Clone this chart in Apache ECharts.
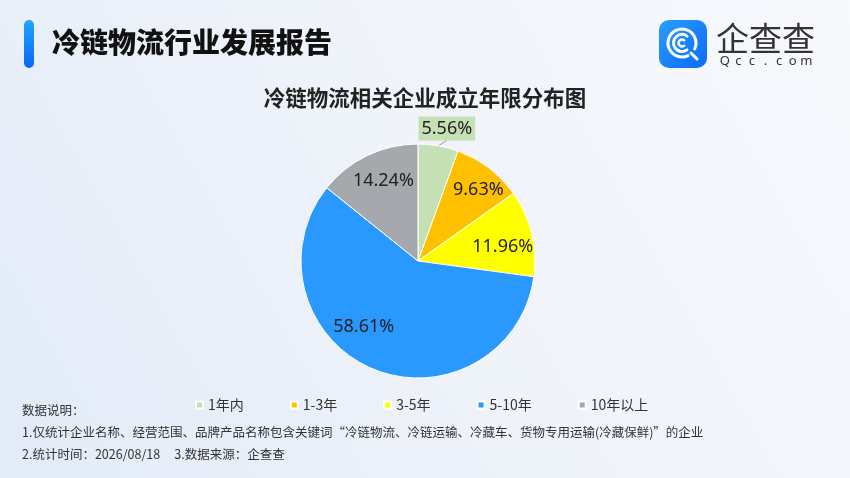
<!DOCTYPE html>
<html><head><meta charset="utf-8">
<script src="https://cdn.jsdelivr.net/npm/echarts@6/dist/echarts.min.js"></script>
<style>html,body{margin:0;padding:0;background:#f2f5fb;}#c{width:850px;height:478px;}</style>
</head><body><div id="c"></div>
<script>
const categories = ['1年内', '1-3年', '3-5年', '5-10年', '10年以上'];
const values = [5.56, 9.63, 11.96, 58.61, 14.24];
const colors = ['#c5e0b4', '#ffc000', '#ffff00', '#2999ff', '#a5a8ac'];
const labelOffsets = [[0, 0], [23, -22], [25, 1], [-30, 9], [-8, -25]];
const pageTitle = '冷链物流行业发展报告';
const chartTitle = '冷链物流相关企业成立年限分布图';
const notes = [
  '数据说明：',
  '1.仅统计企业名称、经营范围、品牌产品名称包含关键词“冷链物流、冷链运输、冷藏车、货物专用运输(冷藏保鲜)”的企业',
  '2.统计时间：2026/08/18     3.数据来源：企查查'
];
const noteY = [410, 432, 454];
const brandName = '企查查';
const brandSite = 'Qcc.com';

const CJK = '"Noto Sans CJK SC", "Noto Sans", sans-serif';
const chart = echarts.init(document.getElementById('c'));
const G = echarts.graphic.LinearGradient;

const graphics = [
  { type: 'rect', shape: { x: 24, y: 20, width: 10, height: 48, r: 5 },
    style: { fill: new G(0, 0, 0, 1, [{ offset: 0, color: '#20a6ff' }, { offset: 1, color: '#0a66f6' }]) } },
  { type: 'text', style: { text: pageTitle, x: 52, y: 42, fill: '#111', fontSize: 28, fontWeight: 900, fontFamily: CJK, verticalAlign: 'middle' } },
  // logo
  { type: 'rect', shape: { x: 659, y: 20, width: 48, height: 48, r: 10 },
    style: { fill: new G(0, 0, 1, 1, [{ offset: 0, color: '#2a9dff' }, { offset: 1, color: '#0b6cf7' }]) } },
  { type: 'arc', shape: { cx: 682, cy: 43, r: 14, startAngle: Math.PI * 0.36, endAngle: Math.PI * 2.14, clockwise: true },
    style: { stroke: '#fff', lineWidth: 3, fill: null, lineCap: 'round' } },
  { type: 'line', shape: { x1: 691, y1: 53, x2: 697, y2: 59 }, style: { stroke: '#fff', lineWidth: 3, lineCap: 'round' } },
  { type: 'arc', shape: { cx: 682, cy: 43, r: 8.5, startAngle: Math.PI * 0.3, endAngle: Math.PI * 1.7, clockwise: true },
    style: { stroke: '#fff', lineWidth: 3, fill: null, lineCap: 'round' } },
  { type: 'arc', shape: { cx: 682, cy: 43, r: 3.5, startAngle: Math.PI * 0.3, endAngle: Math.PI * 1.7, clockwise: true },
    style: { stroke: '#fff', lineWidth: 2.5, fill: null, lineCap: 'round' } },
  { type: 'text', style: { text: brandName, x: 716, y: 38, fill: '#333', fontSize: 33, fontFamily: CJK, verticalAlign: 'middle' } }
];
brandSite.split('').forEach((ch, i) => {
  graphics.push({ type: 'text', style: { text: ch, x: 718 + (95 / 7) * (i + 0.5), y: 61, fill: '#333', fontSize: 13, fontFamily: '"Noto Sans", sans-serif', align: 'center', verticalAlign: 'middle' } });
});
notes.forEach((t, i) => {
  graphics.push({ type: 'text', style: { text: t, x: 22, y: noteY[i], fill: '#333', fontSize: 12.5, fontFamily: CJK, verticalAlign: 'middle' } });
});

chart.setOption({
  backgroundColor: new G(0, 1, 1, 0, [{ offset: 0, color: '#e2ebf8' }, { offset: 0.5, color: '#eff3fa' }, { offset: 1, color: '#f7f9fd' }]),
  animation: false,
  title: { text: chartTitle, left: 'center', top: 82, textStyle: { fontSize: 21.5, fontWeight: 'bold', color: '#222', fontFamily: CJK } },
  legend: { top: 393, left: 190, icon: 'rect', itemWidth: 7, itemHeight: 7, itemGap: 46,
    textStyle: { fontSize: 14, color: '#333', fontFamily: CJK }, data: categories },
  graphic: graphics,
  series: [{
    type: 'pie',
    center: [418, 261],
    radius: 117,
    startAngle: 90,
    clockwise: true,
    avoidLabelOverlap: false,
    itemStyle: { borderColor: '#fff', borderWidth: 1 },
    label: { show: true, position: 'inside', fontSize: 18, color: '#222', fontFamily: '"Noto Sans", sans-serif',
      formatter: p => values[p.dataIndex].toFixed(2) + '%' },
    labelLine: { show: false },
    emphasis: { disabled: true },
    labelLayout: function (params) {
      if (params.dataIndex === 0) {
        return { x: params.rect.x + 1, y: params.rect.y - 3, align: 'left', verticalAlign: 'bottom' };
      }
      return {};
    },
    data: categories.map((name, i) => ({
      name: name,
      value: values[i],
      itemStyle: { color: colors[i] },
      label: i === 0
        ? { position: 'outside', backgroundColor: colors[0], padding: [3, 3] }
        : { offset: labelOffsets[i] },
      labelLine: i === 0 ? { show: true, length: 4, length2: 0, lineStyle: { color: '#999', width: 1 } } : { show: false }
    }))
  }]
});
</script></body></html>
